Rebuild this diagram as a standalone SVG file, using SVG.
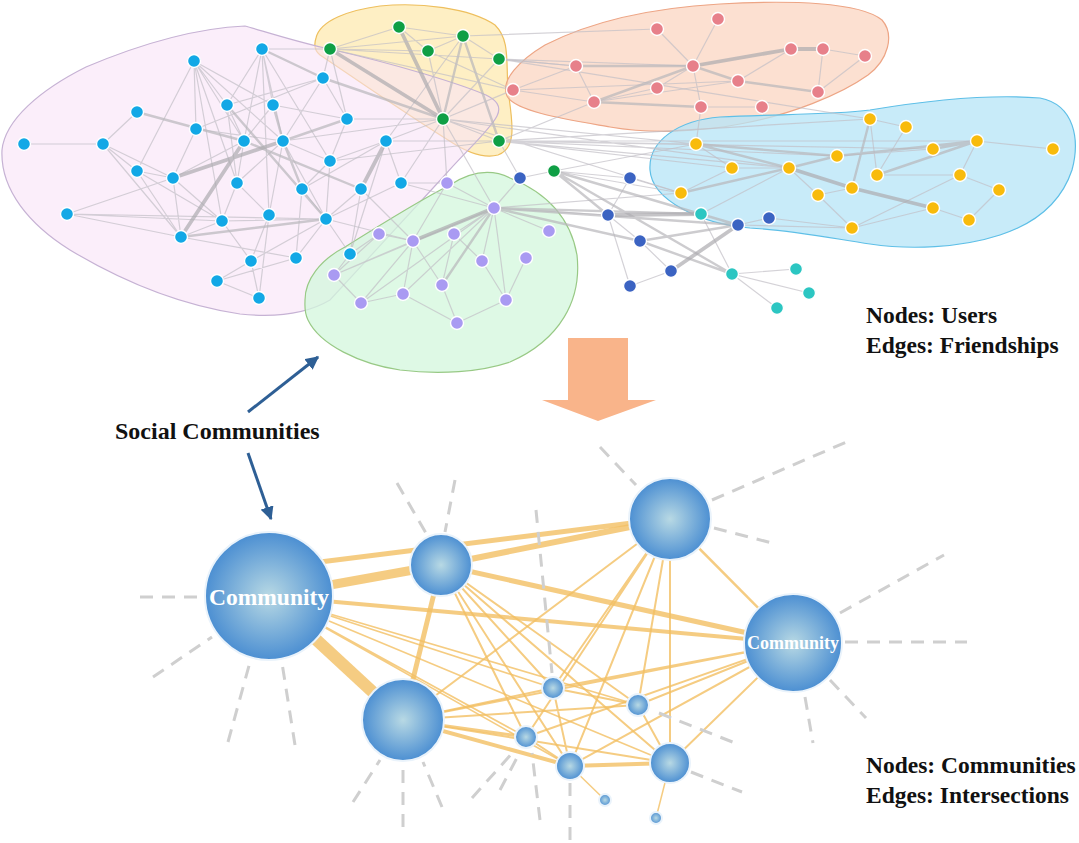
<svg xmlns="http://www.w3.org/2000/svg" width="1079" height="843" viewBox="0 0 1079 843">
<style>
.hull{stroke-width:1.2}
.a{stroke:#c2bfc6;stroke-width:1.2;stroke-opacity:.7;fill:none}
.b{stroke:#b8b6bb;stroke-width:2.4;stroke-opacity:.7;fill:none}
.c{stroke:#adabaf;stroke-width:3.8;stroke-opacity:.7;fill:none}
.u{stroke:#fff;stroke-width:1.4}
.cy{fill:#12a8e6}.gr{fill:#0f9f45}.pk{fill:#e7808a}.yl{fill:#f8bb0c}.db{fill:#3b63c2}.tl{fill:#2cc6c2}.pu{fill:#a99af2}
.o{stroke:#f3bf63;stroke-opacity:.8;fill:none;stroke-linecap:butt}
.d{stroke:#cfcfcf;stroke-width:3;stroke-dasharray:13 9;fill:none}
.cm{fill:url(#bg);stroke:#eaf3fb;stroke-width:2}
.lbl{font-family:"Liberation Serif","Times New Roman",serif;font-weight:bold;fill:#111}
.cl{font-family:"Liberation Serif","Times New Roman",serif;font-weight:bold;fill:#fff;text-anchor:middle}
</style>
<defs>
<radialGradient id="bg" cx="50%" cy="50%" r="50%">
<stop offset="0" stop-color="#b8d9e4"/>
<stop offset="1" stop-color="#4c8fd2"/>
</radialGradient>
<marker id="ah" viewBox="0 0 10 10" refX="9" refY="5" markerWidth="4.5" markerHeight="4.5" orient="auto">
<path d="M0,0 L10,5 L0,10 Z" fill="#2e5f95"/>
</marker>
</defs>
<rect width="1079" height="843" fill="#fff"/>

<g id="hulls">
<path class="hull" fill="#fde9b0" fill-opacity=".75" stroke="#eebf5e" d="M316,38 C320,20 350,10 380,6 C420,2 470,8 495,25 C510,40 506,60 508,90 C512,120 518,148 498,155 C480,160 460,148 448,140 C400,110 350,75 320,55 C314,50 314,44 316,38 Z"/>
<path class="hull" fill="#f8e2f6" fill-opacity=".6" stroke="#c6b2d4" d="M245,26 C200,28 150,40 86,67 C40,90 5,120 2,150 C0,190 30,225 70,250 C120,280 180,305 240,314 C280,318 310,312 330,300 L445,175 C465,152 490,130 497,116 C502,106 496,100 486,95 C460,84 400,65 325,48 C290,40 260,30 245,26 Z"/>
<path class="hull" fill="#fbd6c2" fill-opacity=".75" stroke="#eda585" d="M507,96 C500,80 520,60 545,45 C590,22 650,8 720,4 C790,0 860,2 882,20 C895,35 888,60 868,75 C840,95 790,115 740,124 C700,132 650,134 610,127 C570,120 515,112 507,96 Z"/>
<path class="hull" fill="#b5e4f7" fill-opacity=".75" stroke="#5ebfe7" d="M650,170 C648,140 680,120 720,117 C780,114 830,115 870,110 C930,100 990,94 1040,98 C1075,105 1080,140 1072,170 C1062,200 1040,222 1000,235 C960,248 910,250 870,244 C830,238 790,230 750,228 C700,224 652,200 650,170 Z"/>
<path class="hull" fill="#d3f7dc" fill-opacity=".75" stroke="#98c985" d="M305,300 C305,280 320,260 345,247 C380,225 420,200 450,185 C470,172 490,168 510,178 C545,192 570,215 577,255 C582,300 560,340 510,362 C480,372 440,375 400,370 C360,364 320,345 308,320 C304,312 305,306 305,300 Z"/>
</g>

<g id="connectors">
<g id="friendships">
<path class="a" d="M24,144L103,144M103,144L137,112M103,144L137,171M103,144L173,178M103,144L181,237M194,61L227,105M194,61L196,129M194,61L244,141M194,61L283,141M194,61L137,171M194,61L237,183M194,61L222,221M194,61L273,105M262,49L227,105M262,49L273,105M262,49L244,141M262,49L283,141M262,49L269,215M262,49L330,161M323,78L227,105M323,78L283,141M323,78L196,129M323,78L347,119M227,105L244,141M227,105L237,183M273,105L347,119M273,105L244,141M196,129L173,178M196,129L283,141M244,141L173,178M244,141L237,183M283,141L330,161M283,141L237,183M283,141L269,215M283,141L326,219M386,141L330,161M386,141L401,183M386,141L302,189M330,161L302,189M330,161L326,219M137,171L173,178M137,171L181,237M137,171L222,221M173,178L222,221M173,178L181,237M237,183L222,221M237,183L269,215M302,189L326,219M302,189L296,258M361,189L326,219M361,189L350,254M401,183L326,219M67,214L173,178M67,214L326,219M67,214L222,221M67,214L181,237M222,221L181,237M222,221L251,261M222,221L326,219M269,215L251,261M269,215L259,298M326,219L296,258M326,219L251,261M326,219L350,254M181,237L296,258M251,261L217,281M251,261L259,298M296,258L217,281M217,281L259,298M350,254L386,141M347,119L330,161"/>
<path class="b" d="M137,112L244,141M181,237L326,219M227,105L326,219M244,141L361,189M283,141L302,189M273,105L283,141M283,141L347,119M262,49L323,78"/>
<path class="c" d="M173,178L283,141M181,237L244,141M386,141L361,189"/>
<path class="a" d="M262,49L330,49M323,78L330,49M347,119L443,119M386,141L443,119M401,183L443,119M283,141L443,119M401,183L447,183M361,189L413,241M350,254L379,234M350,254L334,275M326,219L413,241M330,161L499,141M386,141L499,141M401,183L494,208M347,119L330,49M386,141L463,36"/>
<path class="b" d="M323,78L443,119"/>
<path class="c" d="M330,49L443,119M399,27L443,119"/>
<path class="b" d="M463,36L443,119M463,36L499,141"/>
<path class="a" d="M428,51L443,119M499,59L443,119M443,119L499,141M330,49L399,27M330,49L463,36M330,49L428,51M330,49L499,59M399,27L463,36M463,36L428,51M463,36L499,59M399,27L428,51M443,119L447,183M443,119L494,208M499,59L693,66M499,59L576,66M499,141L696,144M499,141L789,168M499,141L837,156M443,119L696,144M499,141L594,102M443,119L513,90M499,141L732,168M463,36L657,29M330,49L513,90M499,59L870,119M443,119L681,193M499,141L977,141M499,141L933,149M428,51L513,90M443,119L789,168M499,141L870,119"/>
<path class="a" d="M657,29L693,66M718,19L693,66M823,49L865,56M823,49L818,92M693,66L657,88M693,66L701,107M576,66L513,90M576,66L594,102M594,102L738,81M594,102L657,88M701,107L762,107M865,56L818,92M791,49L738,81M513,90L594,102M513,90L738,81M701,107L696,144M576,66L499,59"/>
<path class="b" d="M576,66L693,66M693,66L738,81M738,81L818,92M693,66L594,102M594,102L701,107"/>
<path class="c" d="M693,66L791,49M791,49L823,49"/>
<path class="a" d="M789,168L818,195M789,168L732,168M977,141L1053,149M870,119L906,127M870,119L877,175M906,127L877,175M877,175L960,175M960,175L977,141M960,175L999,190M999,190L969,220M933,208L969,220M818,195L852,228M852,228L933,208M852,228L960,175M852,188L818,195M837,156L933,149M696,144L732,168M681,193L732,168M769,218L852,228M738,225L852,228M630,178L681,193M701,214L789,168"/>
<path class="b" d="M696,144L789,168M789,168L837,156M789,168L681,193M837,156L977,141M933,149L977,141M870,119L852,188M877,175L977,141M696,144L837,156"/>
<path class="c" d="M789,168L852,188M852,188L933,208"/>
<path class="a" d="M520,178L554,171M630,178L608,215M608,215L640,241M671,271L630,286M608,215L630,286M732,274L796,269M732,274L809,293M732,274L777,308M701,214L732,274M769,218L738,225M640,241L671,271M554,171L681,193M554,171L696,144M520,178L494,208M520,178L499,141M494,208L608,215M494,208L681,193M554,171L630,178"/>
<path class="b" d="M554,171L608,215M554,171L738,225M554,171L732,274M640,241L738,225M640,241L732,274M494,208L640,241M494,208L701,214M494,208L738,225"/>
<path class="c" d="M608,215L701,214M738,225L671,271"/>
<path class="a" d="M494,208L447,183M494,208L454,234M494,208L482,261M494,208L506,300M494,208L403,294M494,208L361,303M494,208L334,275M494,208L549,231M413,241L403,294M413,241L442,285M413,241L361,303M379,234L334,275M442,285L457,323M403,294L457,323M506,300L457,323M454,234L442,285M482,261L506,300M526,258L506,300M334,275L361,303M413,241L379,234M447,183L413,241M454,234L482,261M403,294L361,303M413,241L334,275"/>
<path class="b" d="M494,208L442,285"/>
<path class="c" d="M494,208L413,241"/>
</g>

<g id="intersections">
<path class="o" stroke-width="9" d="M269,596L441,565"/>
<path class="o" stroke-width="5" d="M320,562L640,522"/>
<path class="o" stroke-width="6" d="M441,565L640,525"/>
<path class="o" stroke-width="4" d="M269,596L793,643"/>
<path class="o" stroke-width="12" d="M269,596L403,720"/>
<path class="o" stroke-width="5" d="M441,565L403,720M441,565L793,643"/>
<path class="o" stroke-width="1.6" d="M269,596L553,688M269,596L638,705M269,596L526,737M269,596L570,766M269,596L670,763"/>
<path class="o" stroke-width="2" d="M441,565L553,688M441,565L526,737M441,565L570,766M441,565L670,763M441,565L638,705"/>
<path class="o" stroke-width="2" d="M670,519L403,720M670,519L553,688M670,519L638,705M670,519L526,737M670,519L570,766M670,519L670,763"/>
<path class="o" stroke-width="2.5" d="M670,519L793,643"/>
<path class="o" stroke-width="2" d="M793,643L403,720M793,643L553,688M793,643L638,705M793,643L526,737M793,643L570,766M793,643L670,763"/>
<path class="o" stroke-width="2" d="M403,720L553,688M403,720L638,705M403,720L670,763M553,688L570,766M526,737L570,766M638,705L670,763M553,688L638,705"/>
<path class="o" stroke-width="3" d="M403,720L526,737"/>
<path class="o" stroke-width="4" d="M403,720L570,766M570,766L670,763"/>
<path class="o" stroke-width="1.5" d="M570,766L605,800M670,763L656,818"/>
</g>

<g id="stubs">
<path class="d" d="M140,597L205,597M153,677L212,637M228,742L250,662M295,745L282,663M397,483L427,535M455,480L445,532M536,510L552,673M353,802L380,760M403,827L403,765M442,807L423,762M472,798L515,750M500,790L520,752M540,820L532,753M570,840L570,783M600,447L636,485M712,500L851,440M714,528L772,543M840,613L944,555M845,642L967,642M830,680L866,718M805,697L813,743M659,713L735,743M691,772L742,792"/>
</g>

<g id="pointers">
<line x1="248" y1="412" x2="318" y2="357" stroke="#2e5f95" stroke-width="3" marker-end="url(#ah)"/>
<line x1="248" y1="453" x2="271" y2="519" stroke="#2e5f95" stroke-width="3" marker-end="url(#ah)"/>
</g>
</g>

<g id="users">
<g id="cyan" class="cy">
<g id="c1"><circle class="u" cx="262" cy="49" r="6.5"/></g>
<g id="c2"><circle class="u" cx="194" cy="61" r="6.5"/></g>
<g id="c3"><circle class="u" cx="323" cy="78" r="6.5"/></g>
<g id="c4"><circle class="u" cx="137" cy="112" r="6.5"/></g>
<g id="c5"><circle class="u" cx="227" cy="105" r="6.5"/></g>
<g id="c6"><circle class="u" cx="273" cy="105" r="6.5"/></g>
<g id="c7"><circle class="u" cx="347" cy="119" r="6.5"/></g>
<g id="c8"><circle class="u" cx="196" cy="129" r="6.5"/></g>
<g id="c9"><circle class="u" cx="24" cy="144" r="6.5"/></g>
<g id="c10"><circle class="u" cx="103" cy="144" r="6.5"/></g>
<g id="c11"><circle class="u" cx="244" cy="141" r="6.5"/></g>
<g id="c12"><circle class="u" cx="283" cy="141" r="6.5"/></g>
<g id="c13"><circle class="u" cx="386" cy="141" r="6.5"/></g>
<g id="c14"><circle class="u" cx="330" cy="161" r="6.5"/></g>
<g id="c15"><circle class="u" cx="137" cy="171" r="6.5"/></g>
<g id="c16"><circle class="u" cx="173" cy="178" r="6.5"/></g>
<g id="c17"><circle class="u" cx="237" cy="183" r="6.5"/></g>
<g id="c18"><circle class="u" cx="302" cy="189" r="6.5"/></g>
<g id="c19"><circle class="u" cx="361" cy="189" r="6.5"/></g>
<g id="c20"><circle class="u" cx="401" cy="183" r="6.5"/></g>
<g id="c21"><circle class="u" cx="67" cy="214" r="6.5"/></g>
<g id="c22"><circle class="u" cx="222" cy="221" r="6.5"/></g>
<g id="c23"><circle class="u" cx="269" cy="215" r="6.5"/></g>
<g id="c24"><circle class="u" cx="326" cy="219" r="6.5"/></g>
<g id="c25"><circle class="u" cx="181" cy="237" r="6.5"/></g>
<g id="c26"><circle class="u" cx="251" cy="261" r="6.5"/></g>
<g id="c27"><circle class="u" cx="296" cy="258" r="6.5"/></g>
<g id="c28"><circle class="u" cx="350" cy="254" r="6.5"/></g>
<g id="c29"><circle class="u" cx="217" cy="281" r="6.5"/></g>
<g id="c30"><circle class="u" cx="259" cy="298" r="6.5"/></g>
</g>
<g id="green" class="gr">
<g id="g1"><circle class="u" cx="330" cy="49" r="6.5"/></g>
<g id="g2"><circle class="u" cx="399" cy="27" r="6.5"/></g>
<g id="g3"><circle class="u" cx="463" cy="36" r="6.5"/></g>
<g id="g4"><circle class="u" cx="428" cy="51" r="6.5"/></g>
<g id="g5"><circle class="u" cx="499" cy="59" r="6.5"/></g>
<g id="g6"><circle class="u" cx="443" cy="119" r="6.5"/></g>
<g id="g7"><circle class="u" cx="499" cy="141" r="6.5"/></g>
<g id="g8"><circle class="u" cx="554" cy="171" r="6.5"/></g>
</g>
<g id="pink" class="pk">
<g id="k1"><circle class="u" cx="657" cy="29" r="6.5"/></g>
<g id="k2"><circle class="u" cx="718" cy="19" r="6.5"/></g>
<g id="k3"><circle class="u" cx="576" cy="66" r="6.5"/></g>
<g id="k4"><circle class="u" cx="693" cy="66" r="6.5"/></g>
<g id="k5"><circle class="u" cx="791" cy="49" r="6.5"/></g>
<g id="k6"><circle class="u" cx="823" cy="49" r="6.5"/></g>
<g id="k7"><circle class="u" cx="865" cy="56" r="6.5"/></g>
<g id="k8"><circle class="u" cx="513" cy="90" r="6.5"/></g>
<g id="k9"><circle class="u" cx="657" cy="88" r="6.5"/></g>
<g id="k10"><circle class="u" cx="738" cy="81" r="6.5"/></g>
<g id="k11"><circle class="u" cx="818" cy="92" r="6.5"/></g>
<g id="k12"><circle class="u" cx="594" cy="102" r="6.5"/></g>
<g id="k13"><circle class="u" cx="701" cy="107" r="6.5"/></g>
<g id="k14"><circle class="u" cx="762" cy="107" r="6.5"/></g>
</g>
<g id="yellow" class="yl">
<g id="y1"><circle class="u" cx="870" cy="119" r="6.5"/></g>
<g id="y2"><circle class="u" cx="906" cy="127" r="6.5"/></g>
<g id="y3"><circle class="u" cx="696" cy="144" r="6.5"/></g>
<g id="y4"><circle class="u" cx="933" cy="149" r="6.5"/></g>
<g id="y5"><circle class="u" cx="977" cy="141" r="6.5"/></g>
<g id="y6"><circle class="u" cx="1053" cy="149" r="6.5"/></g>
<g id="y7"><circle class="u" cx="837" cy="156" r="6.5"/></g>
<g id="y8"><circle class="u" cx="732" cy="168" r="6.5"/></g>
<g id="y9"><circle class="u" cx="789" cy="168" r="6.5"/></g>
<g id="y10"><circle class="u" cx="877" cy="175" r="6.5"/></g>
<g id="y11"><circle class="u" cx="960" cy="175" r="6.5"/></g>
<g id="y12"><circle class="u" cx="681" cy="193" r="6.5"/></g>
<g id="y13"><circle class="u" cx="818" cy="195" r="6.5"/></g>
<g id="y14"><circle class="u" cx="852" cy="188" r="6.5"/></g>
<g id="y15"><circle class="u" cx="999" cy="190" r="6.5"/></g>
<g id="y16"><circle class="u" cx="933" cy="208" r="6.5"/></g>
<g id="y17"><circle class="u" cx="969" cy="220" r="6.5"/></g>
<g id="y18"><circle class="u" cx="852" cy="228" r="6.5"/></g>
</g>
<g id="darkblue" class="db">
<g id="d1"><circle class="u" cx="520" cy="178" r="6.5"/></g>
<g id="d2"><circle class="u" cx="630" cy="178" r="6.5"/></g>
<g id="d3"><circle class="u" cx="608" cy="215" r="6.5"/></g>
<g id="d4"><circle class="u" cx="640" cy="241" r="6.5"/></g>
<g id="d5"><circle class="u" cx="738" cy="225" r="6.5"/></g>
<g id="d6"><circle class="u" cx="769" cy="218" r="6.5"/></g>
<g id="d7"><circle class="u" cx="671" cy="271" r="6.5"/></g>
<g id="d8"><circle class="u" cx="630" cy="286" r="6.5"/></g>
</g>
<g id="teal" class="tl">
<g id="t1"><circle class="u" cx="701" cy="214" r="6.5"/></g>
<g id="t2"><circle class="u" cx="732" cy="274" r="6.5"/></g>
<g id="t3"><circle class="u" cx="796" cy="269" r="6.5"/></g>
<g id="t4"><circle class="u" cx="809" cy="293" r="6.5"/></g>
<g id="t5"><circle class="u" cx="777" cy="308" r="6.5"/></g>
</g>
<g id="purple" class="pu">
<g id="p1"><circle class="u" cx="447" cy="183" r="6.5"/></g>
<g id="p2"><circle class="u" cx="494" cy="208" r="6.5"/></g>
<g id="p3"><circle class="u" cx="379" cy="234" r="6.5"/></g>
<g id="p4"><circle class="u" cx="413" cy="241" r="6.5"/></g>
<g id="p5"><circle class="u" cx="454" cy="234" r="6.5"/></g>
<g id="p6"><circle class="u" cx="482" cy="261" r="6.5"/></g>
<g id="p7"><circle class="u" cx="526" cy="258" r="6.5"/></g>
<g id="p8"><circle class="u" cx="549" cy="231" r="6.5"/></g>
<g id="p9"><circle class="u" cx="334" cy="275" r="6.5"/></g>
<g id="p10"><circle class="u" cx="442" cy="285" r="6.5"/></g>
<g id="p11"><circle class="u" cx="403" cy="294" r="6.5"/></g>
<g id="p12"><circle class="u" cx="506" cy="300" r="6.5"/></g>
<g id="p13"><circle class="u" cx="361" cy="303" r="6.5"/></g>
<g id="p14"><circle class="u" cx="457" cy="323" r="6.5"/></g>
</g>
</g>

<g id="transform-arrow">
<polygon points="568,338 628,338 628,400 656,400 598,421 542,400 568,400" fill="#f9b48a"/>
</g>

<g id="communities">
<g id="cA"><circle class="cm" cx="269" cy="596" r="64"/><text class="cl" x="269" y="605" font-size="23.5">Community</text></g>
<g id="cB"><circle class="cm" cx="441" cy="565" r="31"/></g>
<g id="cC"><circle class="cm" cx="670" cy="519" r="41"/></g>
<g id="cD"><circle class="cm" cx="793" cy="643" r="49"/><text class="cl" x="793" y="649" font-size="18">Community</text></g>
<g id="cE"><circle class="cm" cx="403" cy="720" r="41"/></g>
<g id="cF"><circle class="cm" cx="553" cy="688" r="11"/></g>
<g id="cG"><circle class="cm" cx="638" cy="705" r="11"/></g>
<g id="cH"><circle class="cm" cx="526" cy="737" r="11"/></g>
<g id="cI"><circle class="cm" cx="570" cy="766" r="14"/></g>
<g id="cJ"><circle class="cm" cx="670" cy="763" r="20"/></g>
<g id="cK"><circle class="cm" cx="605" cy="800" r="6"/></g>
<g id="cL"><circle class="cm" cx="656" cy="818" r="6"/></g>
</g>

<g id="labels">
<text class="lbl" x="866" y="323" font-size="23.5">Nodes: Users</text>
<text class="lbl" x="866" y="353" font-size="23.5">Edges: Friendships</text>
<text class="lbl" x="115" y="439" font-size="24">Social Communities</text>
<text class="lbl" x="866" y="773" font-size="23.5">Nodes: Communities</text>
<text class="lbl" x="866" y="803" font-size="23.5">Edges: Intersections</text>
</g>
</svg>
